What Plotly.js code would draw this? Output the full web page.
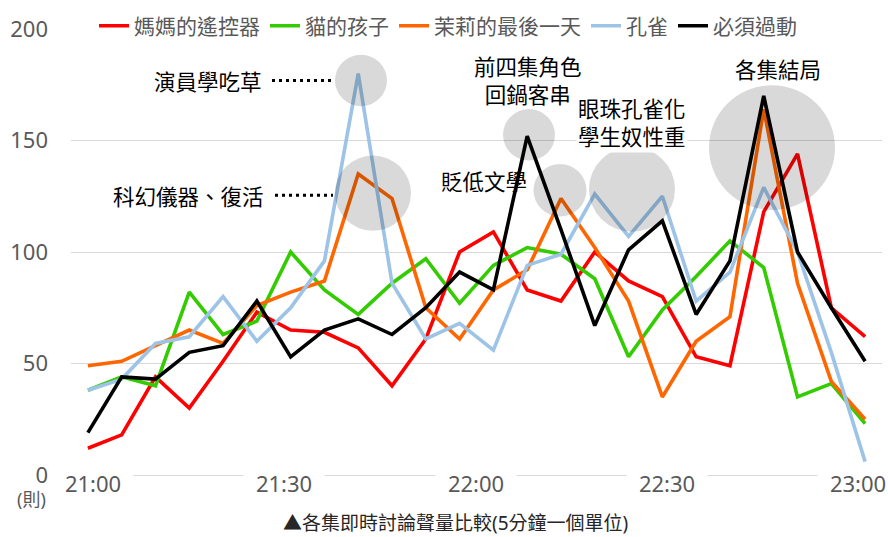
<!DOCTYPE html>
<html>
<head>
<meta charset="utf-8">
<script src="https://cdn.plot.ly/plotly-3.0.1.min.js"></script>
<style>
  html, body { margin: 0; padding: 0; background: #ffffff; }
  #chart { width: 888px; height: 537px; }
</style>
</head>
<body>
<div id="chart"></div>
<script>
// ---- data ----
const times = ["21:00","21:05","21:10","21:15","21:20","21:25","21:30","21:35","21:40","21:45","21:50","21:55",
               "22:00","22:05","22:10","22:15","22:20","22:25","22:30","22:35","22:40","22:45","22:50","22:55"];
const seriesNames = ["媽媽的遙控器", "貓的孩子", "茉莉的最後一天", "孔雀", "必須過動"];
const mamaRemote   = [12, 18, 44, 30, 51, 73, 65, 64, 57, 40, 61, 100, 109, 83, 78, 100, 87, 80, 53, 49, 118, 144, 75, 62];
const catsChild    = [38, 44, 40, 82, 63, 69, 100, 83, 72, 86, 97, 77, 94, 102, 99, 88, 53, 74, 89, 105, 93, 35, 41, 23];
const jasmineDay   = [49, 51, 58, 65, 59, 76, 82, 87, 135, 124, 75, 61, 83, 92, 124, 102, 78, 35, 60, 71, 164, 86, 42, 25];
const peacock      = [38, 43, 59, 62, 80, 60, 75, 96, 180, 86, 61, 68, 56, 94, 99, 126, 107, 125, 78, 91, 129, 100, 55, 6];
const mustMove     = [19, 44, 43, 55, 58, 78, 53, 65, 70, 63, 75, 91, 83, 152, 110, 67, 101, 114, 72, 96, 170, 100, 75, 51];
const xTickLabels  = ["21:00", "21:30", "22:00", "22:30", "23:00"];
const yTickValues  = [0, 50, 100, 150, 200];
const unitLabel    = "(則)";
const caption      = "▲各集即時討論聲量比較(5分鐘一個單位)";
const notes = [
  {text: "演員學吃草"},
  {text: "科幻儀器、復活"},
  {text: "前四集角色<br>回鍋客串"},
  {text: "貶低文學"},
  {text: "眼珠孔雀化<br>學生奴性重"},
  {text: "各集結局"}
];

// ---- layout geometry ----
const W = 888, H = 537, ML = 71, MR = 6, MT = 24, MB = 62;
const PW = W - ML - MR, PH = H - MT - MB;
const px = p => (p - ML) / PW;
const py = p => (H - MB - p) / PH;

const colors = ["#FF0000", "#33CC00", "#FF6600", "#9DC3E6", "#000000"];
const allSeries = [mamaRemote, catsChild, jasmineDay, peacock, mustMove];

const traces = allSeries.map((vals, i) => ({
  type: "scatter",
  mode: "lines",
  x: times,
  y: vals,
  name: seriesNames[i],
  line: {color: colors[i], width: 3.6},
  hoverinfo: "x+y+name"
}));

const CJK = "Noto Sans, Noto Sans CJK TC, sans-serif";
const annFont = {family: "Noto Sans CJK TC, sans-serif", size: 21.5, color: "#000000"};

const annotations = [];
// x-axis labels (white boxes breaking the zero line)
xTickLabels.forEach((t, k) => {
  annotations.push({
    xref: "paper", yref: "paper",
    x: px(93 + 191.25 * k), y: py(483),
    xanchor: "center", yanchor: "middle",
    text: t, showarrow: false,
    font: {family: CJK, size: 22, color: "#595959"},
    bgcolor: "#ffffff", width: 80, borderpad: 0
  });
});
// unit label
annotations.push({
  xref: "paper", yref: "paper", x: px(31), y: py(499),
  xanchor: "center", yanchor: "middle", text: unitLabel, showarrow: false,
  font: {family: CJK, size: 18, color: "#595959"}
});
// caption
annotations.push({
  xref: "paper", yref: "paper", x: px(455), y: py(524),
  xanchor: "center", yanchor: "middle", text: caption, showarrow: false,
  font: {family: CJK, size: 19, color: "#262626"}
});
// commentary notes
const notePos = [
  {x: 264, y: 76, xa: "right"},
  {x: 266, y: 192, xa: "right"},
  {x: 528, y: 75, xa: "center"},
  {x: 484, y: 177, xa: "center"},
  {x: 632, y: 118, xa: "center", bg: true},
  {x: 778, y: 64, xa: "center"}
];
notes.forEach((n, i) => {
  const p = notePos[i];
  annotations.push({
    xref: "paper", yref: "paper", x: px(p.x), y: py(p.y),
    xanchor: p.xa, yanchor: "middle", text: n.text, showarrow: false,
    font: annFont, align: "center",
    bgcolor: p.bg ? "#ffffff" : "rgba(0,0,0,0)", borderpad: 1
  });
});

// highlight bubbles (center px, radius px)
const bubbles = [
  [361, 76, 26], [373, 190, 38], [529, 131, 26], [560, 187, 26.5], [632, 186, 43], [772, 144, 63]
];
const shapes = bubbles.map(b => ({
  type: "circle", xref: "paper", yref: "paper", layer: "above",
  x0: px(b[0] - b[2]), x1: px(b[0] + b[2]),
  y0: py(b[1] + b[2]), y1: py(b[1] - b[2]),
  fillcolor: "rgba(0,0,0,0.15)", line: {width: 0}
}));
// dotted leaders
[[272, 333, 76], [275, 333, 192]].forEach(d => {
  shapes.push({
    type: "line", xref: "paper", yref: "paper", layer: "above",
    x0: px(d[0]), x1: px(d[1]), y0: py(d[2]), y1: py(d[2]),
    line: {color: "#000000", width: 3, dash: "3px,4px"}
  });
});

const layout = {
  width: W, height: H,
  margin: {l: ML, r: MR, t: MT, b: MB, pad: 0},
  paper_bgcolor: "#ffffff", plot_bgcolor: "#ffffff",
  font: {family: CJK, color: "#595959"},
  showlegend: true,
  legend: {
    orientation: "h", xref: "paper", yref: "paper",
    x: px(94), xanchor: "left", y: py(21), yanchor: "middle",
    bgcolor: "#ffffff", borderwidth: 0,
    font: {family: CJK, size: 21, color: "#595959"},
    itemwidth: 30, traceorder: "normal"
  },
  xaxis: {
    type: "category", range: [-0.5, 23.5],
    showgrid: false, zeroline: false, showline: false,
    showticklabels: false, ticks: "", fixedrange: true
  },
  yaxis: {
    range: [0, 200], tickvals: yTickValues,
    showgrid: true, gridcolor: "#D9D9D9", gridwidth: 1,
    zeroline: true, zerolinecolor: "#D9D9D9", zerolinewidth: 1,
    showline: false, ticks: "", ticklabelstandoff: 22,
    tickfont: {family: CJK, size: 22, color: "#595959"},
    fixedrange: true
  },
  annotations: annotations,
  shapes: shapes
};

Plotly.newPlot("chart", traces, layout, {displayModeBar: false, staticPlot: true});
</script>
</body>
</html>
